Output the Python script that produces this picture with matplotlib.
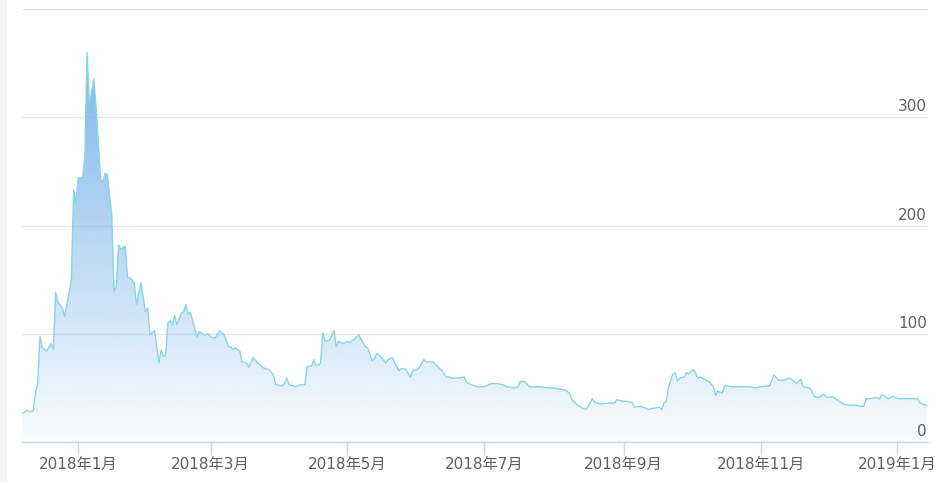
import matplotlib
matplotlib.use('Agg')
import matplotlib.pyplot as plt
import matplotlib.dates as mdates
import matplotlib.transforms as mtransforms
from matplotlib.patches import PathPatch, Rectangle
import numpy as np
from datetime import datetime

plt.rcParams['font.family'] = ['DejaVu Sans', 'Noto Sans CJK SC']

dates = [
    "2017-12-07", "2017-12-09", "2017-12-11", "2017-12-12", "2017-12-13", "2017-12-14",
    "2017-12-15", "2017-12-16", "2017-12-18", "2017-12-20", "2017-12-21", "2017-12-22",
    "2017-12-23", "2017-12-25", "2017-12-26", "2017-12-28", "2017-12-29", "2017-12-30",
    "2017-12-31", "2018-01-01", "2018-01-03", "2018-01-04", "2018-01-05", "2018-01-06",
    "2018-01-08", "2018-01-09", "2018-01-11", "2018-01-12", "2018-01-13", "2018-01-14",
    "2018-01-16", "2018-01-17", "2018-01-18", "2018-01-19", "2018-01-20", "2018-01-22",
    "2018-01-23", "2018-01-24", "2018-01-25", "2018-01-26", "2018-01-27", "2018-01-29",
    "2018-01-31", "2018-02-01", "2018-02-02", "2018-02-04", "2018-02-06", "2018-02-07",
    "2018-02-08", "2018-02-09", "2018-02-10", "2018-02-11", "2018-02-12", "2018-02-13",
    "2018-02-14", "2018-02-16", "2018-02-17", "2018-02-18", "2018-02-19", "2018-02-20",
    "2018-02-23", "2018-02-24", "2018-02-26", "2018-02-28", "2018-03-01", "2018-03-03",
    "2018-03-05", "2018-03-07", "2018-03-09", "2018-03-10", "2018-03-11", "2018-03-12",
    "2018-03-14", "2018-03-15", "2018-03-17", "2018-03-18", "2018-03-20", "2018-03-22",
    "2018-03-25", "2018-03-27", "2018-03-29", "2018-03-30", "2018-04-02", "2018-04-03",
    "2018-04-04", "2018-04-05", "2018-04-08", "2018-04-10", "2018-04-12", "2018-04-13",
    "2018-04-15", "2018-04-16", "2018-04-17", "2018-04-18", "2018-04-19", "2018-04-20",
    "2018-04-21", "2018-04-23", "2018-04-24", "2018-04-25", "2018-04-26", "2018-04-27",
    "2018-04-29", "2018-05-01", "2018-05-02", "2018-05-04", "2018-05-06", "2018-05-09",
    "2018-05-10", "2018-05-12", "2018-05-13", "2018-05-14", "2018-05-16", "2018-05-17",
    "2018-05-18", "2018-05-19", "2018-05-21", "2018-05-22", "2018-05-24", "2018-05-25",
    "2018-05-27", "2018-05-29", "2018-05-30", "2018-06-01", "2018-06-02", "2018-06-04",
    "2018-06-05", "2018-06-08", "2018-06-11", "2018-06-12", "2018-06-14", "2018-06-15",
    "2018-06-17", "2018-06-19", "2018-06-22", "2018-06-23", "2018-06-25", "2018-06-28",
    "2018-06-30", "2018-07-02", "2018-07-04", "2018-07-07", "2018-07-09", "2018-07-11",
    "2018-07-14", "2018-07-16", "2018-07-17", "2018-07-19", "2018-07-21", "2018-07-23",
    "2018-07-26", "2018-07-29", "2018-08-01", "2018-08-03", "2018-08-06", "2018-08-08",
    "2018-08-09", "2018-08-11", "2018-08-13", "2018-08-15", "2018-08-16", "2018-08-18",
    "2018-08-19", "2018-08-20", "2018-08-22", "2018-08-25", "2018-08-28", "2018-08-29",
    "2018-08-31", "2018-09-04", "2018-09-05", "2018-09-06", "2018-09-08", "2018-09-10",
    "2018-09-12", "2018-09-14", "2018-09-17", "2018-09-18", "2018-09-19", "2018-09-20",
    "2018-09-21", "2018-09-23", "2018-09-24", "2018-09-25", "2018-09-26", "2018-09-28",
    "2018-09-29", "2018-09-30", "2018-10-02", "2018-10-03", "2018-10-04", "2018-10-05",
    "2018-10-08", "2018-10-09", "2018-10-11", "2018-10-12", "2018-10-13", "2018-10-15",
    "2018-10-16", "2018-10-19", "2018-10-23", "2018-10-27", "2018-10-30", "2018-11-01",
    "2018-11-05", "2018-11-06", "2018-11-07", "2018-11-09", "2018-11-11", "2018-11-14",
    "2018-11-16", "2018-11-17", "2018-11-19", "2018-11-20", "2018-11-23", "2018-11-25",
    "2018-11-27", "2018-11-29", "2018-12-01", "2018-12-03", "2018-12-05", "2018-12-08",
    "2018-12-10", "2018-12-13", "2018-12-16", "2018-12-17", "2018-12-18", "2018-12-20",
    "2018-12-22", "2018-12-24", "2018-12-25", "2018-12-27", "2018-12-28", "2018-12-30",
    "2019-01-01", "2019-01-04", "2019-01-08", "2019-01-10", "2019-01-11", "2019-01-14",
]

values = [
    26, 29, 28, 29, 45, 54,
    97, 87, 84, 91, 86, 138,
    129, 124, 116, 138, 150, 233,
    220, 244, 244, 264, 360, 312,
    335, 310, 243, 240, 248, 247,
    209, 139, 144, 182, 178, 181,
    152, 152, 150, 147, 127, 147,
    120, 124, 99, 103, 73, 85,
    79, 80, 110, 112, 108, 117,
    108, 119, 120, 127, 118, 120,
    97, 102, 99, 100, 97, 96,
    103, 99, 88, 88, 85, 87,
    84, 74, 73, 69, 78, 73,
    68, 67, 62, 53, 52, 54,
    59, 53, 51, 53, 53, 70,
    70, 76, 71, 71, 73, 101,
    93, 94, 98, 103, 88, 93,
    91, 93, 92, 95, 99, 88,
    87, 75, 77, 82, 78, 76,
    73, 76, 78, 73, 66, 68,
    67, 60, 66, 67, 69, 76,
    74, 74, 68, 66, 60, 60,
    59, 59, 60, 55, 53, 51,
    51, 52, 54, 54, 53, 51,
    50, 51, 56, 56, 51, 51,
    51, 50, 50, 49, 48, 45,
    39, 35, 32, 30, 32, 40,
    37, 36, 35, 36, 36, 39,
    38, 37, 36, 32, 33, 32,
    30, 31, 32, 30, 36, 37,
    51, 63, 64, 56, 59, 60,
    64, 63, 67, 64, 59, 60,
    57, 56, 51, 43, 47, 45,
    52, 51, 51, 51, 50, 51,
    52, 57, 62, 57, 57, 59,
    56, 54, 58, 51, 50, 42,
    41, 44, 41, 42, 39, 35,
    34, 34, 33, 33, 40, 40,
    41, 40, 44, 41, 40, 42,
    40, 40, 40, 40, 36, 34,
]

x_tick_dates = ["2018-01-01", "2018-03-01", "2018-05-01", "2018-07-01",
                "2018-09-01", "2018-11-01", "2019-01-01"]
x_tick_labels = ["2018年1月", "2018年3月", "2018年5月", "2018年7月",
                 "2018年9月", "2018年11月", "2019年1月"]
y_grid = [0, 100, 200, 300, 400]
y_labels = [0, 100, 200, 300]

W, H = 935, 483
fig = plt.figure(figsize=(W / 100, H / 100), dpi=100)
fig.patch.set_facecolor('white')
fig.patches.append(Rectangle((0, 0), 7 / W, 1, transform=fig.transFigure,
                             facecolor='#f5f5f5', edgecolor='none', zorder=0))

ax = fig.add_axes([22 / W, 41 / H, 906 / W, 433 / H])
ax.set_facecolor('white')

xd = mdates.date2num([datetime.strptime(d, "%Y-%m-%d") for d in dates])
vals = np.array(values, dtype=float)

# gradient fill
base = np.array([124, 181, 236]) / 255.0
n = 256
alpha = np.linspace(0.04, 1.0, n)
img = np.zeros((n, 1, 4))
img[:, 0, :3] = base
img[:, 0, 3] = alpha
poly = ax.fill_between(xd, vals, 0, facecolor='none', edgecolor='none')
path = poly.get_paths()[0]
patch = PathPatch(path, transform=ax.transData, facecolor='none', edgecolor='none')
ax.add_patch(patch)
im = ax.imshow(img, extent=[xd.min(), xd.max(), 0, vals.max()], origin='lower',
               aspect='auto', interpolation='bilinear', zorder=1)
im.set_clip_path(patch)

ax.plot(xd, vals, color='#86d6e3', lw=1.0, zorder=3, solid_joinstyle='round')

ax.set_xlim(xd.min(), xd.max() + 0.6)
ax.set_ylim(0, 400)

ax.set_yticks(y_grid)
ax.yaxis.grid(True, color='#e6e6e6', lw=1)
ax.set_axisbelow(True)
ax.tick_params(axis='y', length=0, labelleft=False, labelright=False)

ax.set_xticks(mdates.date2num([datetime.strptime(d, "%Y-%m-%d") for d in x_tick_dates]))
ax.set_xticklabels(x_tick_labels)
ax.tick_params(axis='x', direction='out', length=9, width=1, color='#ccd6eb',
               pad=1.5, labelsize=11, labelcolor='#606060')

for s in ['top', 'left', 'right']:
    ax.spines[s].set_visible(False)
ax.spines['bottom'].set_color('#ccd6eb')
ax.spines['bottom'].set_linewidth(1)

trans = mtransforms.offset_copy(
    mtransforms.blended_transform_factory(ax.transAxes, ax.transData),
    fig=fig, x=-1, y=3, units='dots')
for v in y_labels:
    ax.text(1.0, v, str(v), transform=trans, ha='right', va='bottom',
            fontsize=11, color='#606060', zorder=5)

fig.savefig('out.png', dpi=100)
